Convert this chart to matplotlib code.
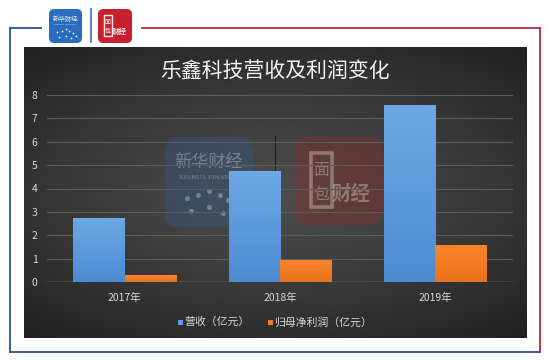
import numpy as np
import matplotlib
matplotlib.use("Agg")
import matplotlib.pyplot as plt
from matplotlib.patches import FancyBboxPatch, Rectangle
from matplotlib.lines import Line2D

plt.rcParams['font.family'] = ['Noto Sans CJK SC', 'DejaVu Sans']

# data (亿元)
years = ["2017年", "2018年", "2019年"]
revenue = [2.72, 4.75, 7.58]
net_profit = [0.28, 0.94, 1.58]
series_names = ["营收（亿元）", "归母净利润（亿元）"]
title = "乐鑫科技营收及利润变化"
y_ticks = [0, 1, 2, 3, 4, 5, 6, 7, 8]

W, H = 550, 362
fig = plt.figure(figsize=(W / 100, H / 100), dpi=100)
fig.patch.set_facecolor("white")


def fbox(x0, y0, x1, y1):
    """pixel box (top-left origin) -> figure fraction rect"""
    return [x0 / W, 1 - y1 / H, (x1 - x0) / W, (y1 - y0) / H]


def fx(x):
    return x / W


def fy(y):
    return 1 - y / H


# outer frame
blue_c = "#2f4f9c"
red_c = "#c4243c"
for xs, ys, c in [
    ([10, 10], [28, 352], blue_c),
    ([10, 41], [28, 28], blue_c),
    ([10, 540], [352, 352], blue_c),
    ([142, 540], [28, 28], red_c),
    ([540, 540], [28, 352], red_c),
]:
    fig.add_artist(Line2D([fx(v) for v in xs], [fy(v) for v in ys],
                          color=c, lw=1.3, transform=fig.transFigure))

# separator between header icons
fig.add_artist(Line2D([fx(91), fx(91)], [fy(9), fy(42)], color="#3a6cc0",
                      lw=1.2, transform=fig.transFigure))


def icon(x0, y0, x1, y1, color, kind, alpha=1.0, z=1):
    a = fig.add_axes(fbox(x0, y0, x1, y1), zorder=z)
    w, h = x1 - x0, y1 - y0
    a.set_xlim(0, w)
    a.set_ylim(0, h)
    a.axis("off")
    a.patch.set_alpha(0)
    r = w * 0.12
    a.add_patch(FancyBboxPatch((r, r), w - 2 * r, h - 2 * r,
                               boxstyle=f"round,pad={r},rounding_size={r * 1.3}",
                               fc=color, ec="none", alpha=alpha))
    tc = (1, 1, 1, 0.9 if alpha == 1 else 0.3)
    if kind == "xh":
        a.text(w * 0.5, h * 0.72, "新华财经", ha="center", va="center",
               fontsize=w * 0.14, color=tc, style="italic")
        a.text(w * 0.5, h * 0.55, "XINHUA FINANCE", ha="center", va="center",
               fontsize=w * 0.05, color=tc, family="DejaVu Serif")
        pts = [(0.25, 0.32), (0.38, 0.36), (0.5, 0.4), (0.62, 0.36), (0.72, 0.3),
               (0.3, 0.18), (0.5, 0.22), (0.66, 0.16), (0.82, 0.2)]
        for px, py in pts:
            a.plot(px * w, py * h, "o", ms=w * 0.04, color=tc, mec="none")
    else:
        a.add_patch(Rectangle((w * 0.18, h * 0.2), w * 0.24, h * 0.62,
                              fill=False, ec=tc, lw=w * 0.03))
        a.text(w * 0.3, h * 0.62, "面", ha="center", va="center",
               fontsize=w * 0.13, color=tc)
        a.text(w * 0.3, h * 0.35, "包", ha="center", va="center",
               fontsize=w * 0.13, color=tc)
        a.text(w * 0.64, h * 0.35, "财经", ha="center", va="center",
               fontsize=w * 0.16, color=tc, fontweight="bold")


# header icons
icon(49, 9, 82, 43, "#2a6cc2", "xh", z=3)
icon(98, 9, 132, 43, "#c8202c", "mb", z=3)

# dark chart panel with a radial gradient
bg = fig.add_axes(fbox(24, 47, 527, 338), zorder=0)
bg.axis("off")
gx = np.linspace(-1, 1, 300)
gy = np.linspace(-1, 1, 180)
X, Y = np.meshgrid(gx, gy)
d = np.sqrt((X * 0.85) ** 2 + (Y * 1.0) ** 2)
d = np.clip(d, 0, 1.3) / 1.3
val = 0.30 - 0.17 * d ** 1.2
bg.imshow(np.dstack([val, val, val]), extent=[0, 1, 0, 1],
          aspect="auto", interpolation="bicubic")
bg.set_xlim(0, 1)
bg.set_ylim(0, 1)

# faint watermarks behind the bars
icon(165, 137, 253, 227, "#2f5f9f", "xh", alpha=0.3, z=1)
icon(295, 137, 383, 225, "#a02428", "mb", alpha=0.3, z=1)
fig.add_artist(Line2D([fx(275), fx(275)], [fy(136), fy(225)], color="#1c1c1c",
                      lw=0.8, transform=fig.transFigure, zorder=1.5))

# main plot
ax = fig.add_axes(fbox(47, 95, 513, 282), zorder=2)
ax.patch.set_alpha(0)
x = np.arange(len(years))
bw = 0.33
b1 = ax.bar(x - bw / 2, revenue, bw, color="#5b9de0", zorder=3)
b2 = ax.bar(x + bw / 2, net_profit, bw, color="#f07c22", zorder=3)

# vertical shading on each bar
for bars, top, bot in [(b1, (0.43, 0.66, 0.90), (0.29, 0.55, 0.82)),
                       (b2, (0.97, 0.52, 0.18), (0.92, 0.45, 0.10))]:
    for p in bars:
        x0, y0 = p.get_x(), p.get_y()
        grad = np.linspace(0, 1, 64)[:, None]
        img = np.array(bot)[None, None, :] * (1 - grad[..., None]) + \
            np.array(top)[None, None, :] * grad[..., None]
        im = ax.imshow(img, extent=[x0, x0 + p.get_width(), y0, y0 + p.get_height()],
                       origin="lower", aspect="auto", zorder=3.5)
        im.set_clip_path(p)

ax.set_xlim(-0.5, len(years) - 0.5)
ax.set_ylim(0, 8)
ax.set_yticks(y_ticks)
ax.set_xticks(x)
ax.set_xticklabels(years)
ax.tick_params(length=0, colors="#d8d8d8", labelsize=7.5)
ax.tick_params(axis="y", pad=9)
ax.tick_params(axis="x", pad=8)
for lab in ax.get_yticklabels():
    lab.set_ha("center")
for s in ax.spines.values():
    s.set_visible(False)
for t in y_ticks[1:]:
    ax.axhline(t, color="#5c5c5c", lw=0.8, zorder=1)
ax.axhline(0, color="#8a8a8a", lw=1.0, zorder=4)

# title
fig.text(fx(275), fy(72), title, ha="center", va="center",
         fontsize=15, color="#f2f2f2", zorder=5)

# legend
for px, name, c in [(178, series_names[0], "#5b9de0"),
                    (268, series_names[1], "#f07c22")]:
    fig.add_artist(Rectangle((fx(px), fy(324.5)), 5 / W, 5 / H, fc=c, ec="none",
                             transform=fig.transFigure, zorder=5))
    fig.text(fx(px + 6), fy(322), name, ha="left", va="center",
             fontsize=7.8, color="#d8d8d8", zorder=5)

fig.savefig("out.png", dpi=100, facecolor="white")
